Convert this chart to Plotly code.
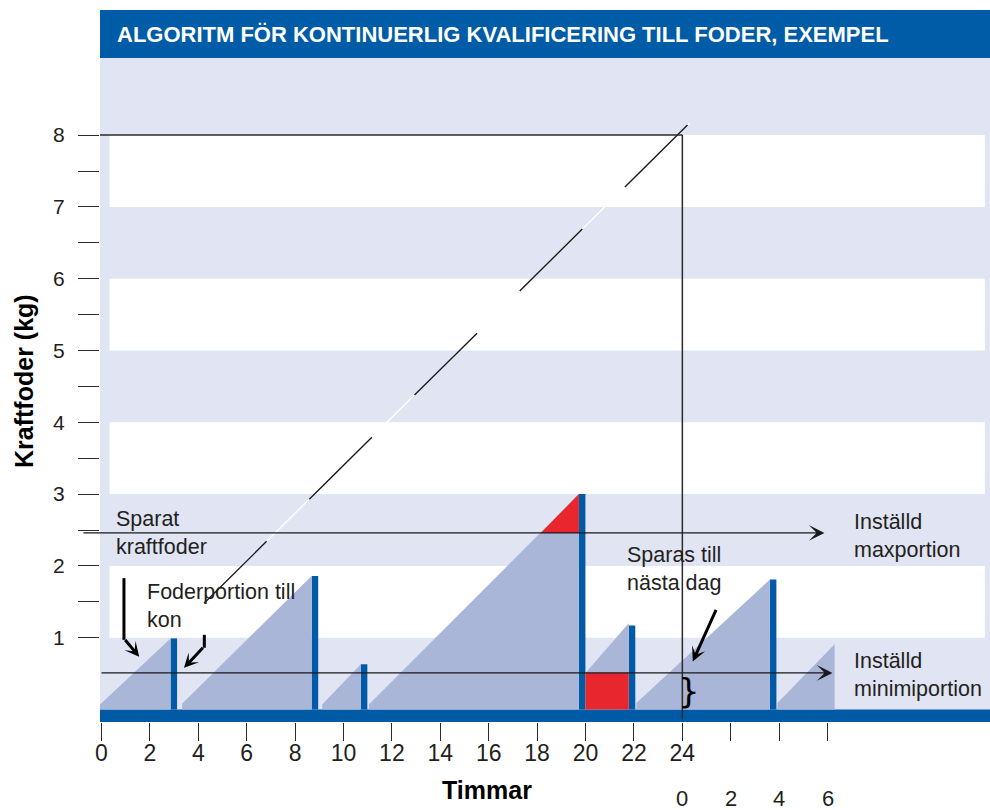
import plotly.graph_objects as go

# ---------------- data ----------------
hour_ticks = [0, 2, 4, 6, 8, 10, 12, 14, 16, 18, 20, 22, 24, 26, 28, 30]
hour_labels = ["0", "2", "4", "6", "8", "10", "12", "14", "16", "18", "20", "22", "24", "", "", ""]
day2_hours = [24, 26, 28, 30]
day2_labels = ["0", "2", "4", "6"]
kg_ticks = [1, 1.5, 2, 2.5, 3, 3.5, 4, 4.5, 5, 5.5, 6, 6.5, 7, 7.5, 8]
kg_labels = ["1", "", "2", "", "3", "", "4", "", "5", "", "6", "", "7", "", "8"]
white_bands = [(1, 2), (3, 4), (5, 6), (7, 8)]

# accumulation ramps (start hour, end hour, start kg, end kg, base kg)
ramp_x0 = [-0.06, 3.33, 9.12, 11.05, 19.995, 22.1, 27.93]
ramp_x1 = [2.855, 8.685, 10.715, 19.725, 21.785, 27.615, 30.29]
ramp_y0 = [0.07, 0.08, 0.07, 0.07, 0.51, 0.09, 0.09]
ramp_y1 = [0.99, 1.86, 0.63, 3.00, 1.20, 1.81, 0.91]
ramp_base = [0, 0, 0, 0, 0.51, 0, 0]

# feed portions given to the cow
feed_hours = [2.99, 8.82, 10.85, 19.86, 21.92, 27.75]
feed_kg = [0.99, 1.86, 0.63, 3.00, 1.17, 1.81]

max_portion = 2.46
min_portion = 0.51
excess_x = [18.15, 19.725, 19.725]
excess_y = [2.46, 2.46, 3.00]
carry_x = [19.995, 21.785]
carry_y = [0.0, 0.51]

cum_x = [4.24, 24.3]
cum_y = [1.48, 8.17]
day_total = 8
day_end = 24

title = "ALGORITM FÖR KONTINUERLIG KVALIFICERING TILL FODER, EXEMPEL"

# ---------------- styling ----------------
XR = [-0.06, 36.71]
YR = [-0.174, 9.074]
FONT = "Liberation Sans, Arial, Helvetica, sans-serif"
TXT = "#231f20"
LAV = "#e0e4f3"
RAMP = "#aab6d7"
BLUE = "#005aa5"
RED = "#e8262d"
LINE = "#2b2b2b"

fig = go.Figure()

# ramps
rx, ry = [], []
for a, b, c, d, e in zip(ramp_x0, ramp_x1, ramp_y0, ramp_y1, ramp_base):
    rx += [a, b, b, a, a, None]
    ry += [c, d, e, e, c, None]
fig.add_trace(go.Scatter(x=rx, y=ry, fill="toself", fillcolor=RAMP, mode="lines",
                         line=dict(width=0, color=RAMP), hoverinfo="skip"))

# excess above max portion (red triangle)
fig.add_trace(go.Scatter(x=excess_x + [excess_x[0]], y=excess_y + [excess_y[0]], fill="toself",
                         fillcolor=RED, mode="lines", line=dict(width=0, color=RED), hoverinfo="skip"))
# carried over (red rectangle)
fig.add_trace(go.Scatter(x=[carry_x[0], carry_x[1], carry_x[1], carry_x[0], carry_x[0]],
                         y=[carry_y[0], carry_y[0], carry_y[1], carry_y[1], carry_y[0]],
                         fill="toself", fillcolor=RED, mode="lines", line=dict(width=0, color=RED),
                         hoverinfo="skip"))

# feed portions
fig.add_trace(go.Bar(x=feed_hours, y=feed_kg, width=0.27, marker=dict(color=BLUE, line=dict(width=0))))

# cumulative line: white underlay + black dashes
fig.add_trace(go.Scatter(x=cum_x, y=cum_y, mode="lines", line=dict(color="white", width=1.4),
                         hoverinfo="skip"))
fig.add_trace(go.Scatter(x=cum_x, y=cum_y, mode="lines",
                         line=dict(color="#1a1a1a", width=1.4, dash="88px,60px"), hoverinfo="skip"))

# day total line and day end line
fig.add_trace(go.Scatter(x=[XR[0], day_end], y=[day_total, day_total], mode="lines",
                         line=dict(color=LINE, width=1.5), hoverinfo="skip"))
fig.add_trace(go.Scatter(x=[day_end, day_end], y=[day_total, -0.14], mode="lines",
                         line=dict(color=LINE, width=1.5), hoverinfo="skip"))

shapes = []
for lo, hi in white_bands:
    shapes.append(dict(type="rect", xref="x", yref="y", x0=0.33, x1=36.5, y0=lo, y1=hi,
                       fillcolor="white", line=dict(width=0), layer="below"))
shapes.append(dict(type="rect", xref="paper", yref="y", x0=0, x1=1, y0=YR[0], y1=0.0,
                   fillcolor=BLUE, line=dict(width=0), layer="below"))
# banner
shapes.append(dict(type="rect", xref="paper", yref="paper", x0=0, x1=1, y0=1, y1=1 + 48 / 664,
                   fillcolor="#005ca6", line=dict(width=0), layer="above"))
# bent arrow stems
shapes.append(dict(type="line", xref="x", yref="y", x0=0.93, x1=0.93, y0=1.83, y1=0.97,
                   line=dict(color="black", width=3)))
shapes.append(dict(type="line", xref="x", yref="y", x0=4.25, x1=4.25, y0=1.04, y1=0.86,
                   line=dict(color="black", width=3)))
fig.update_layout(shapes=shapes)

ann = []
# title
ann.append(dict(text="<b>" + title + "</b>", xref="paper", yref="paper", x=0.0169, y=1 + 24 / 664,
                xanchor="left", yanchor="middle", showarrow=False,
                font=dict(family=FONT, size=22, color="white")))
# axis titles
ann.append(dict(text="<b>Kraftfoder (kg)</b>", xref="paper", yref="paper", x=-76 / 890, y=0.5136,
                textangle=-90, xanchor="center", yanchor="middle", showarrow=False,
                font=dict(family=FONT, size=25, color="black")))
ann.append(dict(text="<b>Timmar</b>", xref="paper", yref="paper", x=0.4348, y=-68 / 664,
                xanchor="center", yanchor="middle", showarrow=False,
                font=dict(family=FONT, size=25, color="black")))
for h, lab in zip(day2_hours, day2_labels):
    ann.append(dict(text=lab, xref="x", yref="paper", x=h, y=-76 / 664, xanchor="center",
                    yanchor="middle", showarrow=False, font=dict(family=FONT, size=22, color=TXT)))

# arrows for max / min portion
ann.append(dict(x=29.87, y=max_portion, ax=-0.81, ay=max_portion, xref="x", yref="y", axref="x",
                ayref="y", showarrow=True, arrowhead=3, arrowsize=2.0, arrowwidth=1.3,
                arrowcolor="#1a1a1a", text=""))
ann.append(dict(x=30.2, y=min_portion, ax=-0.06, ay=min_portion, xref="x", yref="y", axref="x",
                ayref="y", showarrow=True, arrowhead=3, arrowsize=2.0, arrowwidth=1.3,
                arrowcolor="#1a1a1a", text=""))
# thick pointer arrows
ann.append(dict(x=1.56, y=0.735, ax=0.93, ay=0.99, xref="x", yref="y", axref="x", ayref="y",
                showarrow=True, arrowhead=3, arrowsize=0.8, arrowwidth=3, arrowcolor="black", text=""))
ann.append(dict(x=3.41, y=0.58, ax=4.25, ay=0.88, xref="x", yref="y", axref="x", ayref="y",
                showarrow=True, arrowhead=3, arrowsize=0.8, arrowwidth=3, arrowcolor="black", text=""))
ann.append(dict(x=24.43, y=0.67, ax=25.42, ay=1.41, xref="x", yref="y", axref="x", ayref="y",
                showarrow=True, arrowhead=3, arrowsize=0.8, arrowwidth=3, arrowcolor="black", text=""))
# brace
ann.append(dict(text="}", x=24.27, y=0.26, xref="x", yref="y", showarrow=False,
                font=dict(family="DejaVu Sans, sans-serif", size=34, color="black")))

# labels
def label(txt, x, y):
    ann.append(dict(text=txt, x=x, y=y, xref="x", yref="y", xanchor="left", yanchor="middle",
                    align="left", showarrow=False, font=dict(family=FONT, size=21.5, color=TXT)))

label("Sparat<br>kraftfoder", 0.5, 2.46)
label("Foderportion till<br>kon", 1.78, 1.44)
label("Sparas till<br>nästa dag", 21.65, 1.96)
label("Inställd<br>maxportion", 31.0, 2.42)
label("Inställd<br>minimiportion", 31.0, 0.48)

fig.update_layout(
    annotations=ann,
    width=990, height=810,
    margin=dict(l=100, r=0, t=58, b=88, pad=0),
    paper_bgcolor="white", plot_bgcolor=LAV,
    showlegend=False,
    xaxis=dict(range=XR, showgrid=False, zeroline=False, showline=False, tickmode="array",
               tickvals=hour_ticks, ticktext=hour_labels, ticks="outside", ticklen=18,
               tickwidth=1.2, tickcolor=LINE, ticklabelstandoff=-8,
               tickfont=dict(family=FONT, size=23, color=TXT)),
    yaxis=dict(range=YR, showgrid=False, zeroline=False, showline=False, tickmode="array",
               tickvals=kg_ticks, ticktext=kg_labels, ticks="outside", ticklen=21,
               tickwidth=1.2, tickcolor=LINE, ticklabelstandoff=9,
               tickfont=dict(family=FONT, size=21, color=TXT)),
)

fig.write_html("out.html", config={"displayModeBar": False},
               post_script="document.body.style.margin='0';")
